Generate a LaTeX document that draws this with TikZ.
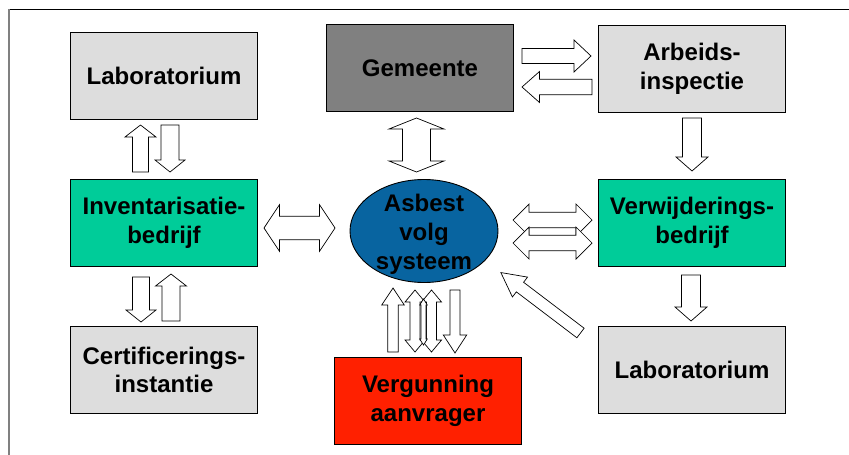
\documentclass[tikz,border=0pt]{standalone}
\usepackage{fontspec}
\setmainfont{Liberation Sans}
\usetikzlibrary{shapes.geometric}

\definecolor{labgray}{RGB}{221,221,221}
\definecolor{citygray}{RGB}{128,128,128}
\definecolor{firmgreen}{RGB}{0,204,153}
\definecolor{systemblue}{RGB}{8,100,160}
\definecolor{permitred}{RGB}{255,32,0}

\tikzset{
  box/.style={draw=black, line width=0.9pt, minimum width=187pt, minimum height=87pt,
    inner sep=0pt, align=center, font=\fontsize{24}{28.5}\selectfont\bfseries},
  blockarrow/.style={draw=black, fill=white, line width=0.7pt, line join=miter},
}

% single block arrow: #1 tail point, #2 angle, #3 length,
% #4 half shaft width, #5 half head width, #6 head length
\newcommand\singleblock[6]{%
  \draw[blockarrow, shift={(#1)}, rotate=#2]
    (0,-#4) -- (#3-#6,-#4) -- (#3-#6,-#5) -- (#3,0) -- (#3-#6,#5) -- (#3-#6,#4) -- (0,#4) -- cycle;}

% double block arrow: #1 centre point, #2 angle, #3 length,
% #4 half shaft width, #5 half head width, #6 head length
\newcommand\doubleblock[6]{%
  \draw[blockarrow, shift={(#1)}, rotate=#2]
    (-#3/2,0) -- (-#3/2+#6,-#5) -- (-#3/2+#6,-#4) -- (#3/2-#6,-#4) -- (#3/2-#6,-#5) -- (#3/2,0)
    -- (#3/2-#6,#5) -- (#3/2-#6,#4) -- (-#3/2+#6,#4) -- (-#3/2+#6,#5) -- cycle;}

\begin{document}
\begin{tikzpicture}[x=1pt, y=-1pt]
  \useasboundingbox (0,0) rectangle (849,455);

  % page frame
  \draw[line width=1.6pt, black] (8.7,9.3) -- (849,9.3);
  \draw[line width=1.6pt, citygray] (8.7,9.3) -- (8.7,455);

  % organisations
  \node[box, fill=labgray]   (lab1)   at (164,76)  {Laboratorium};
  \node[box, fill=citygray]  (gem)    at (420,68)  {Gemeente};
  \node[box, fill=labgray]   (arb)    at (692,69)  {Arbeids-\\inspectie};
  \node[box, fill=firmgreen] (inv)    at (164,223) {Inventarisatie-\\bedrijf};
  \node[box, fill=firmgreen] (verw)   at (692,223) {Verwijderings-\\bedrijf};
  \node[box, fill=labgray]   (cert)   at (164,370) {Certificerings-\\instantie};
  \node[box, fill=labgray]   (lab2)   at (692,370) {Laboratorium};
  \node[box, fill=permitred] (verg)   at (428,401) {Vergunning\\aanvrager};

  % central tracking system
  \node[ellipse, draw=black, line width=0.9pt, fill=systemblue,
        minimum width=148pt, minimum height=103pt, inner sep=0pt] (avs) at (424,231) {};
  \node[align=center, font=\fontsize{24}{29}\selectfont\bfseries] (avstext) at (424,234)
    {Asbest\\volg\\systeem};

  % Gemeente <-> Arbeidsinspectie
  \singleblock{522,56}{0}{69}{7.5}{16}{17}
  \singleblock{592,87}{180}{70}{7.8}{15.5}{17.5}

  % Gemeente <-> system
  \doubleblock{416.5,145}{90}{54}{14}{27.5}{11}

  % Inventarisatiebedrijf <-> system
  \doubleblock{299.5,228}{0}{71}{11.7}{23.3}{15.5}

  % system <-> Verwijderingsbedrijf
  \doubleblock{552.5,220}{0}{79}{7.8}{16}{16}
  \doubleblock{552.5,243}{0}{79}{7.8}{16}{16}

  % Laboratorium -> system
  \singleblock{580.5,333}{142.8}{100}{6}{12.5}{24}

  % Arbeidsinspectie -> Verwijderingsbedrijf -> Laboratorium
  \singleblock{692,118}{-90}{53}{9.5}{16}{14}
  \singleblock{691,275}{-90}{46}{9.5}{16}{14}

  % Laboratorium <-> Inventarisatiebedrijf
  \singleblock{140.5,172}{90}{47}{8}{15.5}{12}
  \singleblock{170,125}{-90}{47}{9}{15}{12}

  % Inventarisatiebedrijf <-> Certificeringsinstantie
  \singleblock{141,277}{-90}{45}{8.5}{15}{12}
  \singleblock{171,321}{90}{47}{9}{15.5}{12}

  % system <-> Vergunning aanvrager
  \singleblock{393,352}{90}{64}{5.3}{11.3}{17}
  \doubleblock{415,321}{90}{62}{5}{10}{12}
  \doubleblock{431.5,321}{90}{62}{5}{10}{12}
  \doubleblock{423.5,322}{90}{46}{2.5}{3.8}{6}
  \singleblock{455,290}{-90}{63}{5}{11.7}{18}
\end{tikzpicture}
\end{document}
